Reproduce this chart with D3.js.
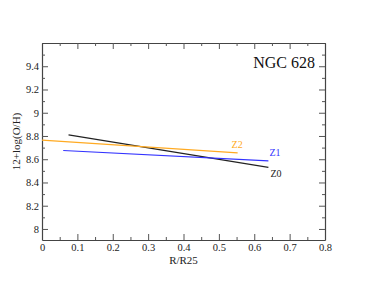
<!DOCTYPE html>
<html>
<head>
<meta charset="utf-8">
<script src="https://cdn.jsdelivr.net/npm/d3@7"></script>
<style>
  body { margin: 0; background: #fff; }
</style>
</head>
<body>
<div id="canvas"></div>
<script>
const seriesNames = ["Z0", "Z1", "Z2"];
const seriesColors = ["#222222", "#3333ff", "#ffaa22"];
// each line: [R/R25 start, 12+log(O/H) start], [R/R25 end, 12+log(O/H) end]
const z0 = [[0.075, 8.81], [0.64, 8.53]];
const z1 = [[0.06, 8.675], [0.64, 8.585]];
const z2 = [[0.0, 8.765], [0.553, 8.655]];
const xTicks = [0, 0.1, 0.2, 0.3, 0.4, 0.5, 0.6, 0.7, 0.8];
const yTicks = [8, 8.2, 8.4, 8.6, 8.8, 9, 9.2, 9.4];
const title = "NGC 628";

const serif = "Liberation Serif";
const w = 366;
const h = 283;
const margin = { top: 43, bottom: 43, left: 42, right: 41 };
const width = w - margin.left - margin.right;
const height = h - margin.top - margin.bottom;

const svg = d3.select("#canvas").append("svg")
  .attr("width", w)
  .attr("height", h)
  .attr("font-family", serif);

const g = svg.append("g")
  .attr("transform", `translate(${margin.left},${margin.top})`);

const x = d3.scaleLinear().domain([0, 0.8]).range([0, width]);
const y = d3.scaleLinear().domain([7.905, 9.6]).range([height, 0]);

const minorX = d3.range(0.05, 0.8, 0.1);
const minorY = d3.range(7.9, 9.6, 0.2).filter(v => v > 7.95);

function fmt(d) { return d3.format("~g")(+d.toFixed(2)); }

// bottom axis, ticks inward
g.append("g").attr("transform", `translate(0,${height})`)
  .call(d3.axisBottom(x).tickValues(xTicks).tickSizeInner(-6).tickSizeOuter(0).tickPadding(4).tickFormat(fmt));
g.append("g").attr("transform", `translate(0,${height})`)
  .call(d3.axisBottom(x).tickValues(minorX).tickSizeInner(-3).tickSizeOuter(0).tickFormat(""))
  .call(a => a.select(".domain").remove());

// top axis
g.append("g")
  .call(d3.axisTop(x).tickValues(xTicks).tickSizeInner(-6).tickSizeOuter(0).tickFormat(""));
g.append("g")
  .call(d3.axisTop(x).tickValues(minorX).tickSizeInner(-3).tickSizeOuter(0).tickFormat(""))
  .call(a => a.select(".domain").remove());

// left axis
g.append("g")
  .call(d3.axisLeft(y).tickValues(yTicks).tickSizeInner(-6).tickSizeOuter(0).tickPadding(3).tickFormat(fmt));
g.append("g")
  .call(d3.axisLeft(y).tickValues(minorY).tickSizeInner(-3).tickSizeOuter(0).tickFormat(""))
  .call(a => a.select(".domain").remove());

// right axis
g.append("g").attr("transform", `translate(${width},0)`)
  .call(d3.axisRight(y).tickValues(yTicks).tickSizeInner(-6).tickSizeOuter(0).tickFormat(""));
g.append("g").attr("transform", `translate(${width},0)`)
  .call(d3.axisRight(y).tickValues(minorY).tickSizeInner(-3).tickSizeOuter(0).tickFormat(""))
  .call(a => a.select(".domain").remove());

g.selectAll("g").attr("font-family", serif).attr("font-size", 10.5);
g.selectAll(".domain").attr("stroke", "#444").attr("stroke-width", 1.2);
g.selectAll(".tick line").attr("stroke", "#555");
g.selectAll(".tick text").attr("fill", "#222");

// lines
const lines = [z0, z1, z2];
const line = d3.line().x(d => x(d[0])).y(d => y(d[1]));
g.selectAll(".series")
  .data(lines)
  .enter()
  .append("path")
  .attr("class", "series")
  .attr("d", line)
  .attr("fill", "none")
  .attr("stroke", (d, i) => seriesColors[i])
  .attr("stroke-width", 1.2);

// line labels
const labelPos = [
  { dx: 2, dy: 10 },
  { dx: 1, dy: -5 },
  { dx: -6, dy: -5 }
];
g.selectAll(".lbl")
  .data(lines)
  .enter()
  .append("text")
  .attr("class", "lbl")
  .attr("x", (d, i) => x(d[1][0]) + labelPos[i].dx)
  .attr("y", (d, i) => y(d[1][1]) + labelPos[i].dy)
  .attr("fill", (d, i) => seriesColors[i])
  .attr("font-size", 10)
  .text((d, i) => seriesNames[i]);

// title
g.append("text")
  .attr("x", width - 10)
  .attr("y", 25)
  .attr("text-anchor", "end")
  .attr("font-size", 16)
  .attr("fill", "#111")
  .text(title);

// axis titles
svg.append("text")
  .attr("x", margin.left + width / 2)
  .attr("y", 264)
  .attr("text-anchor", "middle")
  .attr("font-size", 11)
  .attr("fill", "#222")
  .text("R/R25");

svg.append("text")
  .attr("transform", `translate(20,${margin.top + height / 2}) rotate(-90)`)
  .attr("text-anchor", "middle")
  .attr("font-size", 11)
  .attr("fill", "#222")
  .text("12+log(O/H)");
</script>
</body>
</html>
